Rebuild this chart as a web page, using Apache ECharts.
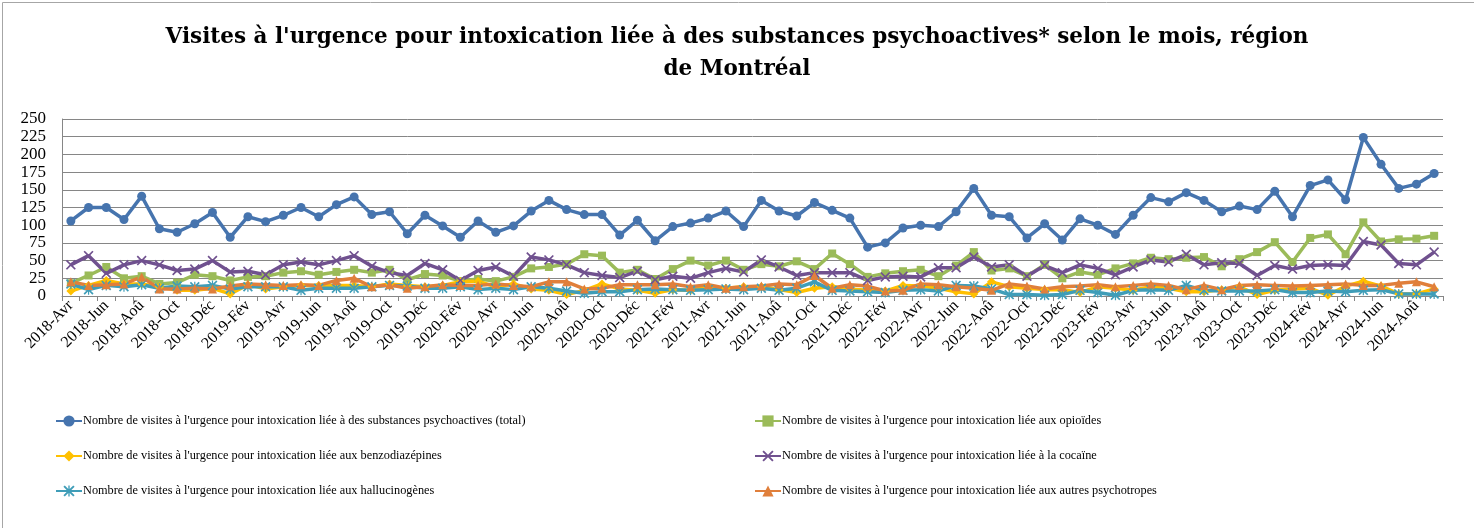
<!DOCTYPE html>
<html>
<head>
<meta charset="utf-8">
<script src="https://cdn.jsdelivr.net/npm/echarts@6/dist/echarts.min.js"></script>
<style>
html,body{margin:0;padding:0;background:#fff;}
#c{width:1474px;height:528px;}
</style>
</head>
<body>
<div id="c"></div>
<script>
// ---- Data ----
const monthNames = ['Jan','Fév','Mar','Avr','Mai','Jun','Jul','Aoû','Sep','Oct','Nov','Déc'];
const startYear = 2018, startMonth = 3, nMonths = 78; // 2018-Avr .. 2024-Sep
const categories = [];
for (let k = 0; k < nMonths; k++) {
  const m = startMonth + k;
  categories.push((startYear + Math.floor(m / 12)) + '-' + monthNames[m % 12]);
}
const yTicks = [0,25,50,75,100,125,150,175,200,225,250];

const seriesNames = [
  "Nombre de visites à l'urgence pour intoxication liée à des substances psychoactives (total)",
  "Nombre de visites à l'urgence pour intoxication liée aux opioïdes",
  "Nombre de visites à l'urgence pour intoxication liée aux benzodiazépines",
  "Nombre de visites à l'urgence pour intoxication liée à la cocaïne",
  "Nombre de visites à l'urgence pour intoxication liée aux hallucinogènes",
  "Nombre de visites à l'urgence pour intoxication liée aux autres psychotropes"
];

const total = [106,125,125,108,141,95,90,102,118,83,112,105,114,125,112,129,140,115,
  119,88,114,99,83,106,90,99,120,135,122,115,115,86,107,78,98,103,110,120,98,
  135,120,113,132,121,110,69,75,96,100,98,119,152,114,112,82,102,79,109,100,
  87,114,139,133,146,135,119,127,122,148,112,156,164,136,224,186,152,158,173];
const opioides = [18,29,41,25,28,17,19,30,28,22,27,28,33,35,30,34,37,33,
  37,23,31,29,21,24,21,27,39,41,45,59,57,33,37,24,38,50,43,50,37,
  45,42,49,38,60,45,27,32,35,37,28,43,62,36,39,28,44,25,34,30,
  39,46,54,52,54,55,42,52,62,76,48,82,87,59,104,77,80,81,85];
const benzos = [7,15,22,17,17,13,8,8,11,3,16,10,13,15,15,15,15,13,
  17,15,13,15,20,21,13,17,10,8,2,8,17,10,8,4,9,8,13,11,13,
  13,9,5,11,13,10,8,7,15,14,11,6,3,20,13,11,9,9,5,13,
  11,8,13,11,6,6,9,13,2,8,10,11,1,14,21,14,3,3,10];
const cocaine = [44,57,32,44,50,44,36,38,50,34,35,30,44,48,44,50,57,42,
  33,29,46,37,22,36,41,28,55,51,44,33,29,26,35,23,28,25,33,39,34,
  51,41,29,33,33,33,22,27,28,27,40,40,55,41,44,28,43,33,44,39,
  30,41,51,48,59,44,47,46,29,43,38,43,44,43,77,72,46,44,62];
const hallucinogenes = [17,9,15,13,16,11,14,13,15,10,13,13,13,8,11,11,11,13,
  15,14,11,11,13,9,11,9,13,11,7,4,6,6,9,10,9,8,9,10,9,
  11,8,11,20,8,7,6,5,8,9,7,15,14,10,2,2,1,2,8,5,
  1,8,9,8,15,8,7,7,7,9,5,5,7,6,8,9,3,3,3];
const autres = [20,15,16,17,27,10,10,11,10,14,17,16,15,16,15,22,25,13,
  16,11,13,16,15,15,17,15,13,20,20,10,11,16,16,16,17,13,16,11,13,
  14,17,16,29,11,16,14,7,8,17,16,13,11,8,17,14,10,13,14,16,
  13,15,17,15,9,15,9,15,16,15,14,15,16,17,15,15,18,20,13];

// ---- Styles ----
const colors = ['#4674ae','#9bbb59','#ffc000','#70518f','#3f9db8','#e07f3b'];
const xSym = 'path://M0,1.2L1.2,0L5,3.8L8.8,0L10,1.2L6.2,5L10,8.8L8.8,10L5,6.2L1.2,10L0,8.8L3.8,5Z';
const starSym = 'path://M0,1.2L1.2,0L4.4,3.2L4.4,0L5.6,0L5.6,3.2L8.8,0L10,1.2L6.2,5L10,8.8L8.8,10L5.6,6.8L5.6,10L4.4,10L4.4,6.8L1.2,10L0,8.8L3.8,5Z';
const symbols = ['circle','rect','diamond',xSym,starSym,'triangle'];
const symSizes = [9,8,9,10,10,9];
const dataSets = [total, opioides, benzos, cocaine, hallucinogenes, autres];
const font = '"Liberation Serif", "Times New Roman", serif';
const titleFont = '"DejaVu Serif", "Liberation Serif", serif';

const series = dataSets.map((d, i) => ({
  name: seriesNames[i],
  type: 'line',
  data: d,
  symbol: symbols[i],
  symbolSize: symSizes[i],
  showAllSymbol: true,
  lineStyle: { width: 3.5, color: colors[i] },
  itemStyle: { color: colors[i] },
  emphasis: { disabled: true },
  animation: false
}));

const legendText = { fontFamily: font, fontSize: 12.3, color: '#000', padding: [0, 0, 0, -4] };

const chart = echarts.init(document.getElementById('c'), null, { renderer: 'canvas' });
chart.setOption({
  animation: false,
  backgroundColor: '#fff',
  color: colors,
  title: {
    text: "Visites à l'urgence pour intoxication liée à des substances psychoactives* selon le mois, région\nde Montréal",
    left: 'center',
    top: 16,
    textStyle: { fontFamily: titleFont, fontWeight: 'bold', fontSize: 21.5, lineHeight: 32, color: '#000', align: 'center' }
  },
  legend: [
    {
      orient: 'vertical', left: 50, top: 410, itemWidth: 26, itemHeight: 14, itemGap: 23,
      data: [seriesNames[0], seriesNames[2], seriesNames[4]],
      textStyle: legendText
    },
    {
      orient: 'vertical', left: 749, top: 410, itemWidth: 26, itemHeight: 14, itemGap: 23,
      data: [seriesNames[1], seriesNames[3], seriesNames[5]],
      textStyle: legendText
    }
  ],
  grid: { left: 62, right: 31, top: 119, bottom: 232, containLabel: false },
  xAxis: {
    type: 'category',
    data: categories,
    boundaryGap: true,
    axisLine: { lineStyle: { color: '#868686', width: 1 } },
    axisTick: { show: true, interval: 0, length: 5, lineStyle: { color: '#868686' } },
    axisLabel: { interval: 1, rotate: 45, fontFamily: font, fontSize: 16, color: '#000', margin: 7 },
    splitLine: { show: false }
  },
  yAxis: {
    type: 'value',
    min: yTicks[0], max: yTicks[yTicks.length - 1], interval: 25,
    axisLine: { show: true, lineStyle: { color: '#868686', width: 1 } },
    axisTick: { show: false },
    axisLabel: { fontFamily: font, fontSize: 17, color: '#000', margin: 16 },
    splitLine: { lineStyle: { color: '#868686', width: 1 } }
  },
  graphic: [{
    type: 'rect', left: 0, top: 0, silent: true,
    shape: { x: 0.5, y: 0.5, width: 1472, height: 526 },
    style: { fill: 'none', stroke: '#a6a6a6', lineWidth: 1 }
  }],
  series: series
});
</script>
</body>
</html>
